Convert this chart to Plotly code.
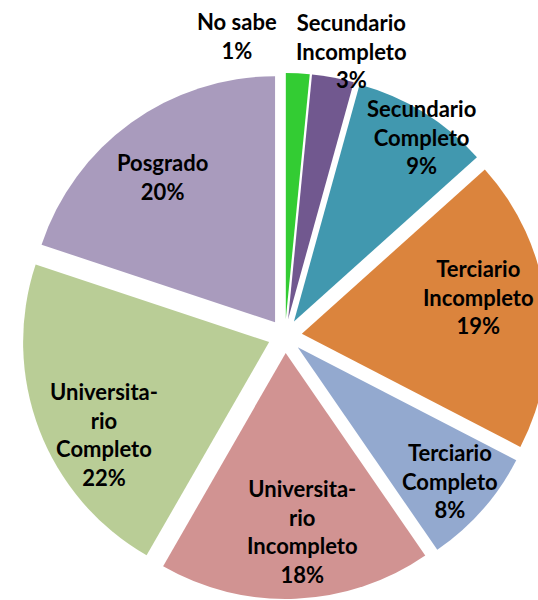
import plotly.graph_objects as go

categories = ["No sabe", "Secundario Incompleto", "Secundario Completo",
              "Terciario Incompleto", "Terciario Completo",
              "Universitario Incompleto", "Universitario Completo", "Posgrado"]
values = [1.55, 2.75, 9.05, 19.25, 7.8, 17.9, 21.8, 19.9]
pct_labels = ["1%", "3%", "9%", "19%", "8%", "18%", "22%", "20%"]
display_names = ["No sabe", "Secundario<br>Incompleto", "Secundario<br>Completo",
                 "Terciario<br>Incompleto", "Terciario<br>Completo",
                 "Universita-<br>rio<br>Incompleto", "Universita-<br>rio<br>Completo",
                 "Posgrado"]
colors = ["#33CC33", "#71588F", "#4198AF", "#DB843D", "#93A9CF",
          "#D19392", "#B9CD96", "#A99BBD"]

# label block centres, in pixels of the figure (layout only)
label_px = [(237, 36), (351, 51), (422, 137), (478, 297),
            (450, 481), (302, 531), (104, 434), (162, 177)]

W, H = 550, 600

fig = go.Figure(go.Pie(
    labels=categories,
    values=values,
    textinfo="none",
    sort=False,
    direction="clockwise",
    rotation=0,
    pull=0.069,
    marker=dict(colors=colors, line=dict(width=0)),
    hoverinfo="label+percent",
    domain=dict(x=[22 / W, 548 / W], y=[1 / H, 527 / H]),
))

for name, pct, (px, py) in zip(display_names, pct_labels, label_px):
    fig.add_annotation(
        text=f"{name}<br>{pct}",
        x=px / W, y=1 - py / H, xref="paper", yref="paper",
        xanchor="center", yanchor="middle",
        showarrow=False, align="center",
        font=dict(family="Lato", size=22, color="black", weight="bold"),
    )

fig.update_layout(
    width=W, height=H,
    margin=dict(l=0, r=0, t=0, b=0),
    showlegend=False,
    paper_bgcolor="white",
    plot_bgcolor="white",
)

fig.write_html(
    "out.html",
    config={"displayModeBar": False},
    post_script=("document.body.style.margin='0';"
                 "document.body.style.overflow='hidden';"
                 "document.documentElement.style.overflow='hidden';"),
)
